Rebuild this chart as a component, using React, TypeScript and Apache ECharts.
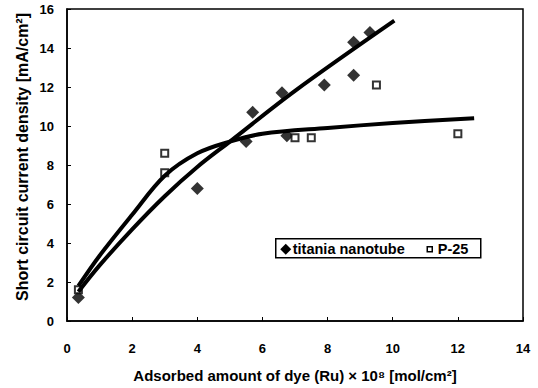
import React, { useEffect, useRef } from "react";
import * as echarts from "echarts";

const titaniaPoints: [number, number][] = [
  [0.35, 1.2], [4.0, 6.8], [5.5, 9.2], [5.7, 10.7], [6.6, 11.7], [6.75, 9.5],
  [7.9, 12.1], [8.8, 12.6], [8.8, 14.3], [9.3, 14.8],
];
const p25Points: [number, number][] = [
  [0.35, 1.6], [3.0, 8.6], [3.0, 7.6], [7.0, 9.4], [7.5, 9.4], [9.5, 12.1], [12.0, 9.6],
];
const titaniaFit: [number, number][] = [
  [0.35, 1.5], [1.0, 2.85], [2.0, 4.7], [3.0, 6.4], [4.0, 7.9], [5.0, 9.2],
  [7.0, 11.8], [10.05, 15.4],
];
const p25Fit: [number, number][] = [
  [0.35, 1.8], [1.0, 3.35], [2.0, 5.45], [3.0, 7.45], [4.0, 8.6], [5.0, 9.2],
  [6.0, 9.6], [8.0, 9.9], [10.0, 10.15], [12.5, 10.4],
];
const legendNames = ["titania nanotube", "P-25"];
const xTitle = "Adsorbed amount of dye (Ru) × 10⁸ [mol/cm²]";
const yTitle = "Short circuit current density [mA/cm²]";

const FONT = "'Liberation Sans', Arial, sans-serif";

export default function App() {
  const ref = useRef<HTMLDivElement>(null);
  useEffect(() => {
    if (!ref.current) return;
    const chart = echarts.init(ref.current, null, { renderer: "svg" });
    const axisCommon = {
      axisLine: { show: true, lineStyle: { color: "#000", width: 1.5 } },
      axisTick: { show: true, inside: true, length: 4, lineStyle: { color: "#000", width: 1 } },
      splitLine: { show: false },
      nameTextStyle: { color: "#000", fontWeight: "bold", fontSize: 15, fontFamily: FONT },
    };
    const legendFont = { fontWeight: "bold", fontSize: 14.5, fontFamily: FONT, fill: "#000" } as any;
    chart.setOption({
      animation: false,
      backgroundColor: "#fff",
      grid: {
        left: 67, right: 15, top: 9, bottom: 65,
        show: true, borderColor: "#000", borderWidth: 1.5,
      },
      xAxis: {
        type: "value", min: 0, max: 14, interval: 2,
        name: xTitle,
        nameLocation: "middle", nameGap: 47,
        axisLabel: { color: "#000", fontWeight: "bold", fontSize: 13, fontFamily: FONT, margin: 21 },
        ...axisCommon,
      },
      yAxis: {
        type: "value", min: 0, max: 16, interval: 2,
        axisLabel: { color: "#000", fontWeight: "bold", fontSize: 13, fontFamily: FONT, margin: 13 },
        ...axisCommon,
      },
      graphic: [
        {
          type: "text", x: 22, y: 157, rotation: Math.PI / 2,
          style: {
            text: yTitle, fontWeight: "bold", fontSize: 16, fontFamily: FONT, fill: "#000",
            textAlign: "center", textVerticalAlign: "middle",
          },
        },
        {
          type: "group", left: 275, top: 238,
          children: [
            { type: "rect", shape: { x: 0, y: 0, width: 205, height: 19 }, style: { fill: "#fff", stroke: "#000", lineWidth: 1.5 } },
            { type: "polygon", shape: { points: [[10, 5], [15.5, 10.5], [10, 16], [4.5, 10.5]] }, style: { fill: "#000" } },
            { type: "text", x: 17, y: 10.5, style: { ...legendFont, text: legendNames[0], textVerticalAlign: "middle" } },
            { type: "rect", shape: { x: 151.5, y: 8, width: 5, height: 5 }, style: { fill: "#fff", stroke: "#000", lineWidth: 1.5 } },
            { type: "text", x: 162, y: 10.5, style: { ...legendFont, text: legendNames[1], textVerticalAlign: "middle" } },
          ],
        },
      ],
      series: [
        {
          name: "titania fit", type: "line", data: titaniaFit, smooth: 0.35,
          showSymbol: false, lineStyle: { color: "#000", width: 4 }, silent: true,
        },
        {
          name: "P-25 fit", type: "line", data: p25Fit, smooth: 0.35,
          showSymbol: false, lineStyle: { color: "#000", width: 4 }, silent: true,
        },
        {
          name: legendNames[0], type: "scatter", data: titaniaPoints,
          symbol: "diamond", symbolSize: 13, itemStyle: { color: "#000" },
        },
        {
          name: legendNames[1], type: "scatter", data: p25Points,
          symbol: "rect", symbolSize: 7,
          itemStyle: { color: "#fff", borderColor: "#000", borderWidth: 2 },
        },
      ],
    });
    return () => chart.dispose();
  }, []);
  return (
    <div
      ref={ref}
      style={{ position: "absolute", left: 0, top: 0, width: 538, height: 388 }}
    />
  );
}
